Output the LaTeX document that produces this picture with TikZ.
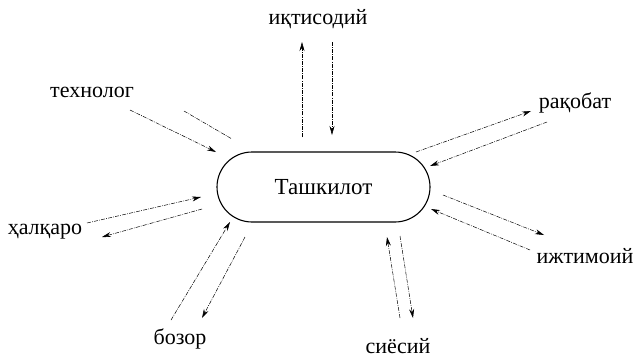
\documentclass[tikz,border=0pt]{standalone}
\usepackage{fontspec}
\setmainfont{Liberation Serif}
\usetikzlibrary{arrows.meta}
\tikzset{
  lbl/.style={inner sep=0pt, font=\fontsize{22}{26}\selectfont},
  org/.style={draw, line width=1.1pt, rounded corners=35pt, minimum width=213pt, minimum height=70pt, inner sep=0pt, font=\fontsize{23}{26}\selectfont},
  link/.style={line width=0.5pt, dash pattern=on 4pt off 1.2pt on 0.8pt off 1.2pt},
  arr/.style={link, -{Stealth[length=9pt, width=5pt]}}
}
\begin{document}
\begin{tikzpicture}[x=1pt, y=-1pt]
\useasboundingbox (0,0) rectangle (636,359);
\node[org] (box) at (323.5,187) {Ташкилот};
\node[lbl] (ik) at (318,19) {иқтисодий};
\node[lbl] (tex) at (92,92) {технолог};
\node[lbl] (rak) at (575,103) {рақобат};
\node[lbl] (hal) at (45,232) {ҳалқаро};
\node[lbl] (boz) at (180,339) {бозор};
\node[lbl] (sie) at (398,346) {сиёсий};
\node[lbl] (izh) at (585,256) {ижтимоий};
% end points
\coordinate (ik1a) at (302,137); \coordinate (ik1b) at (302,42);
\coordinate (ik2a) at (332,42);  \coordinate (ik2b) at (332,135);
\coordinate (tx1a) at (130,110); \coordinate (tx1b) at (216,152);
\coordinate (tx2a) at (184,111); \coordinate (tx2b) at (232,139);
\coordinate (rk1a) at (416,152); \coordinate (rk1b) at (531,111);
\coordinate (rk2a) at (547,122); \coordinate (rk2b) at (430,166);
\coordinate (iz1a) at (443,195); \coordinate (iz1b) at (544,235);
\coordinate (iz2a) at (530,250); \coordinate (iz2b) at (431,209);
\coordinate (si1a) at (400,318); \coordinate (si1b) at (387,237);
\coordinate (si2a) at (400,236); \coordinate (si2b) at (413,318);
\coordinate (bz1a) at (171,320); \coordinate (bz1b) at (230,222);
\coordinate (bz2a) at (245,237); \coordinate (bz2b) at (202,318);
\coordinate (hl1a) at (87,223);  \coordinate (hl1b) at (201,197);
\coordinate (hl2a) at (202,209); \coordinate (hl2b) at (102,237);
\draw[arr] (ik1a) -- (ik1b);
\draw[arr] (ik2a) -- (ik2b);
\draw[arr] (tx1a) -- (tx1b);
\draw[link] (tx2a) -- (tx2b);
\draw[arr] (rk1a) -- (rk1b);
\draw[arr] (rk2a) -- (rk2b);
\draw[arr] (iz1a) -- (iz1b);
\draw[arr] (iz2a) -- (iz2b);
\draw[arr] (si1a) -- (si1b);
\draw[arr] (si2a) -- (si2b);
\draw[arr] (bz1a) -- (bz1b);
\draw[arr] (bz2a) -- (bz2b);
\draw[arr] (hl1a) -- (hl1b);
\draw[arr] (hl2a) -- (hl2b);
\end{tikzpicture}
\end{document}
